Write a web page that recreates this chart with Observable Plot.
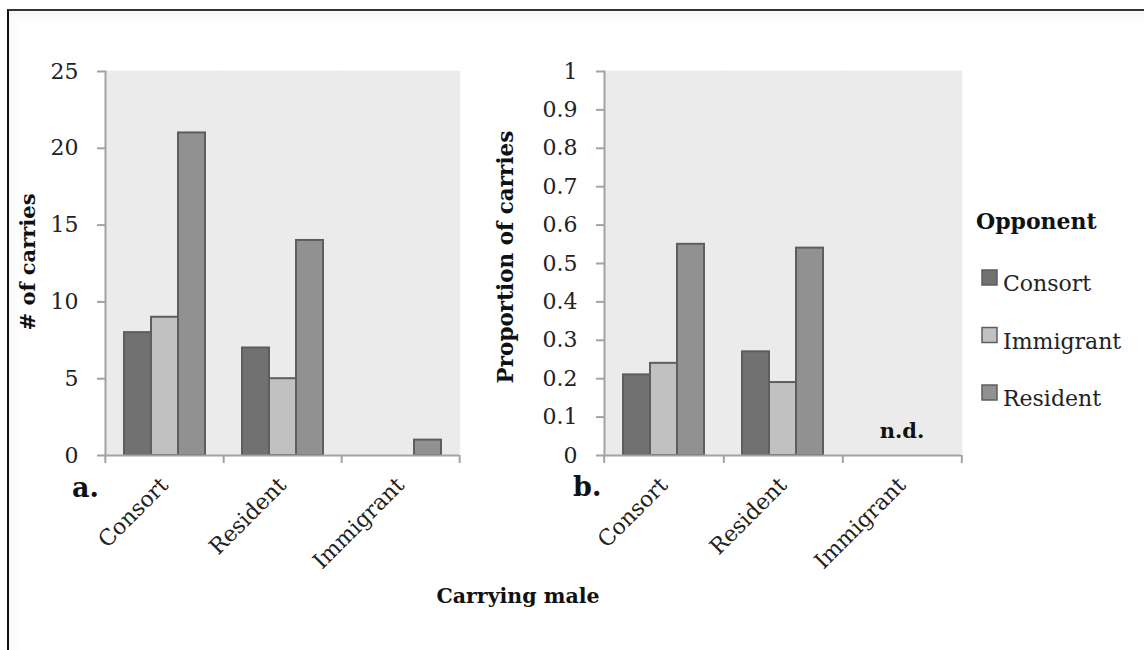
<!DOCTYPE html>
<html>
<head>
<meta charset="utf-8">
<script src="https://cdn.jsdelivr.net/npm/d3@7"></script>
<script src="https://cdn.jsdelivr.net/npm/@observablehq/plot@0.6"></script>
<style>
  body { margin: 0; background: #fff; }
  #root { position: relative; width: 1144px; height: 650px; overflow: hidden; font-family: "DejaVu Serif", serif; color: #1a1a1a; }
  .border { position: absolute; left: 7px; top: 9px; width: 1160px; height: 680px; border-top: 2px solid #333; border-left: 2px solid #111; box-shadow: inset 4px 6px 10px rgba(0,0,0,0.035); }
  .panel { position: absolute; top: 0; }
  #overlay { position: absolute; left: 0; top: 0; }
</style>
</head>
<body>
<div id="root">
  <div class="border"></div>
  <div class="panel" id="countPanel" style="left:0px"></div>
  <div class="panel" id="propPanel" style="left:490px"></div>
  <svg id="overlay" width="1144" height="650"></svg>
</div>
<script>
// Carrying male (x groups) and opponent (bars within each group)
const carriers = ["Consort", "Resident", "Immigrant"];
const opponents = ["Consort", "Immigrant", "Resident"];
const opponentColors = ["#717171", "#c1c1c1", "#919191"];

// Panel a: number of carries, one value per carrying male
const carriesVsConsort = [8, 7, 0];
const carriesVsImmigrant = [9, 5, 0];
const carriesVsResident = [21, 14, 1];

// Panel b: proportion of carries (no data for immigrant carriers)
const propVsConsort = [0.21, 0.27, null];
const propVsImmigrant = [0.24, 0.19, null];
const propVsResident = [0.55, 0.54, null];

const countTicks = [0, 5, 10, 15, 20, 25];
const propTicks = [0, 0.1, 0.2, 0.3, 0.4, 0.5, 0.6, 0.7, 0.8, 0.9, 1];

const countTitle = "# of carries";
const propTitle = "Proportion of carries";
const xTitle = "Carrying male";
const legendTitle = "Opponent";
const noDataText = "n.d.";

function toRows(series) {
  return carriers.flatMap((carrier, i) =>
    opponents.map((opponent, j) => ({carrier, opponent, value: series[j][i]}))
  ).filter(d => d.value != null);
}

const axisGray = "#a3a3a3";
const textColor = "#222";
const panelFill = "#ebebeb";

function panel({data, yDomain, yTicks, yFormat, width, marginLeft, marginRight, extra = []}) {
  const height = 560, marginTop = 71, marginBottom = 105;
  const step = (width - marginLeft - marginRight) / carriers.length;
  return Plot.plot({
    width, height, marginLeft, marginRight, marginTop, marginBottom,
    style: {fontFamily: "DejaVu Serif", fontSize: "22px", color: textColor, background: "transparent", overflow: "visible"},
    fx: {domain: carriers, padding: 0, label: null, axis: null},
    x: {domain: opponents, paddingInner: 0, paddingOuter: 0.66, axis: null},
    y: {domain: yDomain, label: null},
    color: {domain: opponents, range: opponentColors},
    marks: [
      Plot.frame({fill: panelFill, stroke: panelFill, strokeWidth: 1.5}),
      Plot.barY(data, {fx: "carrier", x: "opponent", y: "value", fill: "opponent", stroke: "#5e5e5e", strokeWidth: 2}),
      Plot.ruleY([0], {stroke: axisGray, strokeWidth: 2}),
      Plot.frame({anchor: "left", facetAnchor: "left", stroke: axisGray, strokeWidth: 2}),
      Plot.axisY({ticks: yTicks, tickFormat: yFormat, tickSize: 8, tickPadding: 19, stroke: axisGray, strokeWidth: 2, fill: textColor, label: null, fontSize: 22}),
      Plot.axisFx({anchor: "bottom", tickSize: 0, tickRotate: -45, tickPadding: 26, label: null, fill: textColor, fontSize: 22}),
      Plot.axisFx({anchor: "bottom", tickSize: 8, dx: step / 2, stroke: axisGray, strokeWidth: 2, fill: "none", label: null}),
      Plot.axisFx({anchor: "bottom", ticks: [carriers[0]], tickSize: 8, dx: -step / 2, stroke: axisGray, strokeWidth: 2, fill: "none", label: null}),
      ...extra
    ]
  });
}

document.getElementById("countPanel").append(panel({
  data: toRows([carriesVsConsort, carriesVsImmigrant, carriesVsResident]),
  yDomain: [0, 25], yTicks: countTicks, yFormat: d => String(d),
  width: 490, marginLeft: 104, marginRight: 31
}));

document.getElementById("propPanel").append(panel({
  data: toRows([propVsConsort, propVsImmigrant, propVsResident]),
  yDomain: [0, 1], yTicks: propTicks, yFormat: d3.format("~g"),
  width: 490, marginLeft: 113, marginRight: 18,
  extra: [
    Plot.text([{carrier: carriers[2]}], {fx: "carrier", text: () => noDataText, frameAnchor: "bottom", dy: -18, fontWeight: "bold", fontSize: 21, fill: "#111"})
  ]
}));

// Titles, panel letters and the opponent legend
const svg = d3.select("#overlay").attr("font-family", "DejaVu Serif");

svg.append("text").attr("transform", "translate(35,262) rotate(-90)")
  .attr("text-anchor", "middle").attr("font-weight", "bold").attr("font-size", 21).attr("fill", "#111").text(countTitle);
svg.append("text").attr("transform", "translate(513,257) rotate(-90)")
  .attr("text-anchor", "middle").attr("font-weight", "bold").attr("font-size", 21.5).attr("fill", "#111").text(propTitle);
svg.append("text").attr("x", 518).attr("y", 603)
  .attr("text-anchor", "middle").attr("font-weight", "bold").attr("font-size", 20.5).attr("fill", "#111").text(xTitle);
svg.append("text").attr("x", 72).attr("y", 497).attr("font-weight", "bold").attr("font-size", 27).attr("fill", "#111").text("a.");
svg.append("text").attr("x", 573).attr("y", 496).attr("font-weight", "bold").attr("font-size", 27).attr("fill", "#111").text("b.");

svg.append("text").attr("x", 976).attr("y", 229).attr("font-weight", "bold").attr("font-size", 22).attr("fill", "#111").text(legendTitle);
const item = svg.selectAll("g.item").data(opponents).join("g")
  .attr("class", "item")
  .attr("transform", (d, i) => `translate(982,${270 + i * 57.5})`);
item.append("rect").attr("width", 15).attr("height", 15)
  .attr("fill", (d, i) => opponentColors[i]).attr("stroke", "#5e5e5e").attr("stroke-width", 1.5);
item.append("text").attr("x", 21).attr("y", 21).attr("font-size", 22).attr("fill", textColor).text(d => d);
</script>
</body>
</html>
